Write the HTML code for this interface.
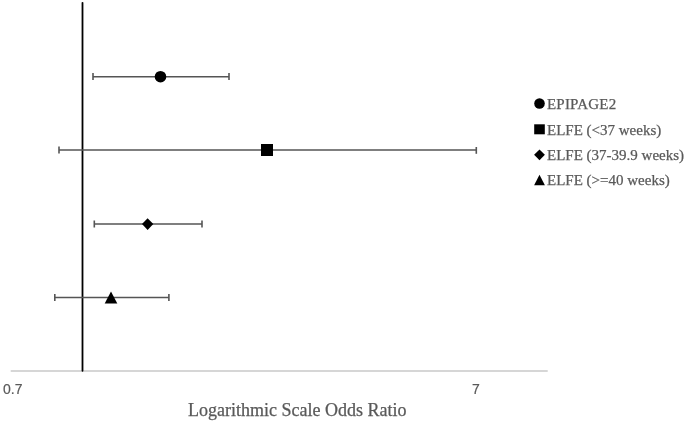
<!DOCTYPE html>
<html><head><meta charset="utf-8">
<style>
html,body{margin:0;padding:0;background:#fff;}
body{width:685px;height:422px;overflow:hidden;position:relative;}
svg{position:absolute;left:0;top:0;}
.t{position:absolute;white-space:nowrap;color:#595959;will-change:transform;}
.serif{font-family:"Liberation Serif",serif;-webkit-text-stroke:0.25px #595959;}
.sans{font-family:"Liberation Sans",sans-serif;-webkit-text-stroke:0.2px #595959;}
</style></head><body>
<svg width="685" height="422" viewBox="0 0 685 422">
  <!-- axis -->
  <line x1="10.7" y1="370.9" x2="547.7" y2="370.9" stroke="#c8c8c8" stroke-width="1.5"/>
  <!-- reference line -->
  <line x1="82.5" y1="2.8" x2="82.5" y2="370.8" stroke="#000" stroke-width="1.8" stroke-linecap="round"/>
  <g stroke="#555" stroke-width="1.6" fill="none">
    <!-- row1 -->
    <line x1="93" y1="76.7" x2="229" y2="76.7"/>
    <line x1="93" y1="73" x2="93" y2="80"/>
    <line x1="229" y1="73" x2="229" y2="80"/>
    <!-- row2 -->
    <line x1="59" y1="150" x2="476.3" y2="150"/>
    <line x1="59" y1="146.5" x2="59" y2="153.5"/>
    <line x1="476.3" y1="147" x2="476.3" y2="153.8"/>
    <!-- row3 -->
    <line x1="94.3" y1="224" x2="202" y2="224"/>
    <line x1="94.3" y1="220.5" x2="94.3" y2="227.5"/>
    <line x1="202" y1="220.5" x2="202" y2="227.5"/>
    <!-- row4 -->
    <line x1="54.8" y1="297.5" x2="168.9" y2="297.5"/>
    <line x1="54.8" y1="294" x2="54.8" y2="301"/>
    <line x1="168.9" y1="294" x2="168.9" y2="301"/>
  </g>
  <g fill="#000">
    <circle cx="160.5" cy="76.7" r="5.8"/>
    <rect x="261" y="144" width="12" height="12"/>
    <polygon points="147.6,218.2 153.3,224 147.6,229.9 142,224"/>
    <polygon points="111,291.6 117.3,303.5 104.7,303.5"/>
    <!-- legend -->
    <circle cx="539.5" cy="103.5" r="5.3"/>
    <rect x="534.2" y="124.3" width="10.6" height="10"/>
    <polygon points="539.5,149.4 544.9,154.8 539.5,160.2 534.1,154.8"/>
    <polygon points="539.5,174.8 544.9,185.3 534.1,185.3"/>
  </g>
</svg>
<div class="t sans" style="left:3.2px;top:381.3px;font-size:14px;line-height:16px;">0.7</div>
<div class="t sans" style="left:472.2px;top:381.3px;font-size:14px;line-height:16px;">7</div>
<div class="t serif" style="left:188px;top:400.4px;font-size:18px;line-height:20px;">Logarithmic Scale Odds Ratio</div>
<div class="t serif" style="left:547px;top:95.2px;font-size:15px;letter-spacing:0.2px;line-height:18px;">EPIPAGE2</div>
<div class="t serif" style="left:547px;top:120.6px;font-size:15px;line-height:18px;">ELFE (&lt;37 weeks)</div>
<div class="t serif" style="left:547px;top:146.2px;font-size:15px;line-height:18px;">ELFE (37-39.9 weeks)</div>
<div class="t serif" style="left:547px;top:171.2px;font-size:15px;line-height:18px;">ELFE (&gt;=40 weeks)</div>
</body></html>
